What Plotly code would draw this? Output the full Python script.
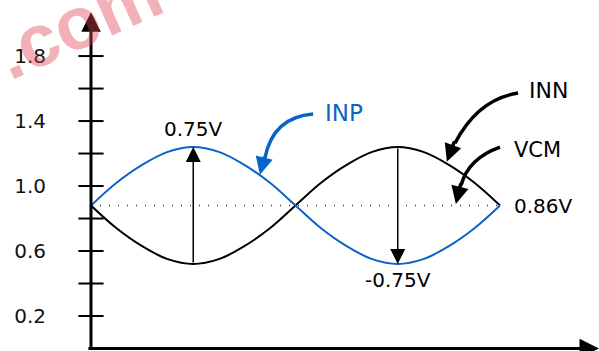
import plotly.graph_objects as go

# phase across one period (0 -> 1)
phase = [0, 0.0625, 0.125, 0.1875, 0.25, 0.3125, 0.375, 0.4375, 0.5,
         0.5625, 0.625, 0.6875, 0.75, 0.8125, 0.875, 0.9375, 1.0]
inp = [0.88, 1.02, 1.13, 1.21, 1.24, 1.21, 1.13, 1.02, 0.88,
       0.74, 0.63, 0.55, 0.52, 0.55, 0.63, 0.74, 0.88]
inn = [0.88, 0.74, 0.63, 0.55, 0.52, 0.55, 0.63, 0.74, 0.88,
       1.02, 1.13, 1.21, 1.24, 1.21, 1.13, 1.02, 0.88]
vcm = 0.88
tick_marks = [0.2, 0.4, 0.6, 0.8, 1.0, 1.2, 1.4, 1.6, 1.8]
tick_labels = [0.2, 0.6, 1.0, 1.4, 1.8]

BLUE = "#0a64c8"
FONT = "DejaVu Sans"

fig = go.Figure()

# VCM dotted line
fig.add_trace(go.Scatter(x=[phase[0], phase[-1]], y=[vcm, vcm], mode="lines",
                         line=dict(color="#333", width=1.5, dash="1px,8px"),
                         hoverinfo="skip"))
fig.add_trace(go.Scatter(x=phase, y=inn, mode="lines", line_shape="spline",
                         line=dict(color="black", width=2)))
fig.add_trace(go.Scatter(x=phase, y=inp, mode="lines", line_shape="spline",
                         line=dict(color=BLUE, width=2)))
# tick marks crossing the y axis
fig.add_trace(go.Scatter(x=[0] * len(tick_marks), y=tick_marks, mode="markers",
                         marker=dict(symbol="line-ew", size=18,
                                     line=dict(color="black", width=2)),
                         cliponaxis=False, hoverinfo="skip"))

ann = []
# axes with arrow heads
ann.append(dict(x=0, y=2.07, ax=0, ay=-0.01, axref="x", ayref="y",
                showarrow=True, arrowhead=2, arrowsize=1.3, arrowwidth=3,
                arrowcolor="black", text=""))
ann.append(dict(x=1.242, y=0, ax=-0.01, ay=0, axref="x", ayref="y",
                showarrow=True, arrowhead=2, arrowsize=1.3, arrowwidth=3,
                arrowcolor="black", text=""))

# amplitude arrows
pk = phase[4]
tr = phase[12]
ann.append(dict(x=pk, y=max(inp), ax=pk, ay=min(inn), axref="x", ayref="y",
                showarrow=True, arrowhead=2, arrowsize=2, arrowwidth=1.5,
                arrowcolor="black", text=""))
ann.append(dict(x=tr, y=min(inp), ax=tr, ay=max(inn), axref="x", ayref="y",
                showarrow=True, arrowhead=2, arrowsize=2, arrowwidth=1.5,
                arrowcolor="black", text=""))

# curved pointer arrows: (tail, control, base, tip, colour)
pointers = [
    ((0.543, 1.443), (0.445, 1.425), (0.425, 1.17), (0.413, 1.07), BLUE),
    ((1.044, 1.572), (0.946, 1.535), (0.890, 1.264), (0.870, 1.150), "black"),
    ((1.000, 1.240), (0.922, 1.170), (0.905, 1.006), (0.892, 0.890), "black"),
]
shapes = []
for tail, ctrl, base, tip, col in pointers:
    shapes.append(dict(type="path", xref="x", yref="y",
                       path=f"M {tail[0]},{tail[1]} Q {ctrl[0]},{ctrl[1]} {base[0]},{base[1]}",
                       line=dict(color=col, width=3.5)))
    ann.append(dict(x=tip[0], y=tip[1], ax=base[0], ay=base[1] + 0.02,
                    axref="x", ayref="y", showarrow=True, arrowhead=2,
                    arrowsize=1.0, arrowwidth=3.5, arrowcolor=col, text=""))

# labels
def label(x, y, text, size, color="black", xanchor="center"):
    ann.append(dict(x=x, y=y, text=text, showarrow=False, xanchor=xanchor,
                    font=dict(family=FONT, size=size, color=color)))

label(pk, 1.35, "0.75V", 20)
label(tr, 0.42, "-0.75V", 20)
label(1.03, vcm, "0.86V", 20, xanchor="left")
label(1.03, 1.22, "VCM", 21, xanchor="left")
label(1.066, 1.585, "INN", 22, xanchor="left")
label(0.566, 1.45, "INP", 23, color=BLUE, xanchor="left")

# watermark (partly off the top edge, as in the source image)
ann.append(dict(xref="paper", yref="paper", x=-0.025, y=0.935, text="<b>.com</b>",
                xanchor="center", yanchor="middle",
                showarrow=False, textangle=-24,
                font=dict(family="Liberation Sans", size=74,
                          color="rgba(225,70,80,0.42)")))

fig.update_layout(
    width=599, height=351,
    margin=dict(l=91, r=0, t=0, b=0),
    paper_bgcolor="white", plot_bgcolor="white",
    showlegend=False,
    annotations=ann, shapes=shapes,
    xaxis=dict(range=[0, 1.242], visible=False, fixedrange=True),
    yaxis=dict(range=[-0.0154, 2.145], tickvals=tick_labels,
               ticktext=[f"{v:.1f}" for v in tick_labels],
               showgrid=False, zeroline=False, showline=False, ticks="",
               ticklabelstandoff=44, automargin=False, fixedrange=True,
               tickfont=dict(family=FONT, size=20, color="#111")),
)

fig.write_html("out.html", config={"displayModeBar": False},
               post_script="document.body.style.margin='0';")
